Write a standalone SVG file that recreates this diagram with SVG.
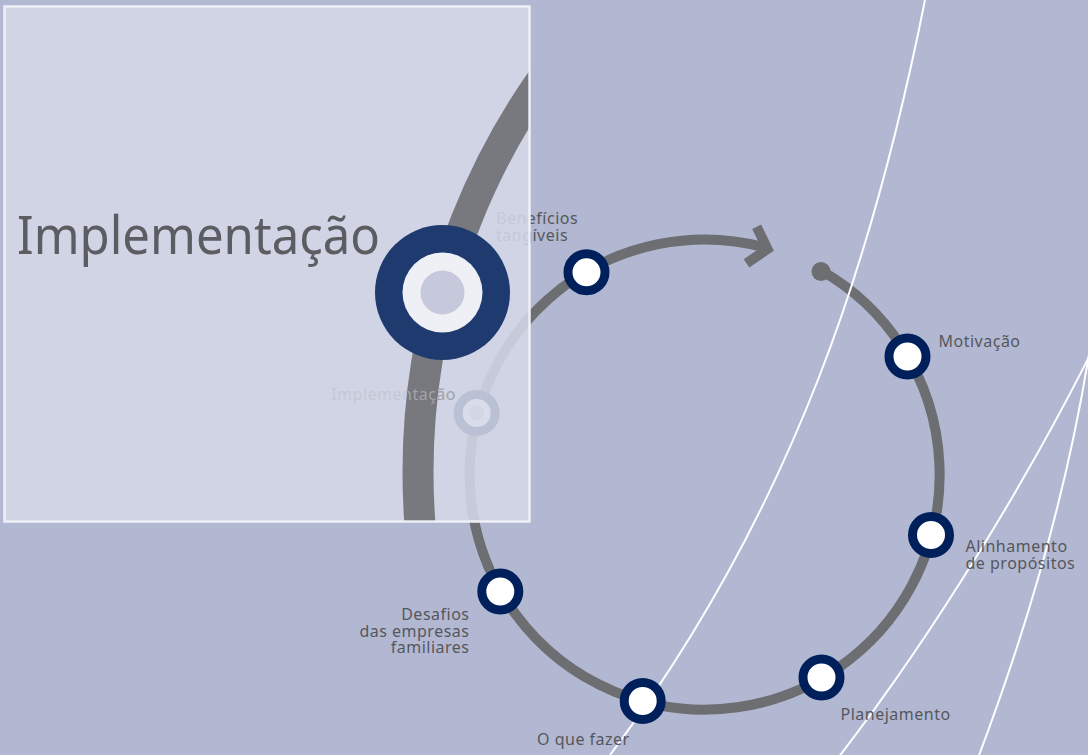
<svg xmlns="http://www.w3.org/2000/svg" width="1088" height="755" viewBox="0 0 1088 755">
  <defs>
    <style>
      .ring { fill: none; stroke: #6d6e71; stroke-width: 10; }
      .node { fill: #ffffff; stroke: #00205b; stroke-width: 9; }
      .wline { fill: none; stroke: #ffffff; stroke-width: 2; }
      .lbl { font-family: "Noto Sans", "Open Sans", sans-serif; font-size: 16px; letter-spacing: 0.5px; fill: #56575c; }
      .big { font-family: "Noto Sans", "Open Sans", sans-serif; font-size: 53px; fill: #5c5c63; }
    </style>
    <clipPath id="panelClip">
      <rect x="5.75" y="7.75" width="522.5" height="512.5"/>
    </clipPath>
    <clipPath id="arcTextClip">
      <rect x="406" y="380" width="60" height="30"/>
    </clipPath>
  </defs>

  <rect id="background" x="0" y="0" width="1088" height="755" fill="#b2b8d2"/>

  <g id="connectors">
    <path class="ring" d="M822,271 A235,235 0 1,1 767.3,248.1"/>
    <polyline points="756.7,226.8 767.5,249 746.5,263.3" fill="none" stroke="#6d6e71" stroke-width="10" stroke-linejoin="miter" stroke-linecap="butt"/>
    <circle cx="821" cy="271.5" r="9.5" fill="#6d6e71"/>
  </g>

  <g id="white-curves">
    <path class="wline" stroke-width="2.4" d="M925,0 C875,250 797,505 610,755"/>
    <path class="wline" stroke-width="1.8" d="M1095,345 C1030,475 938,628 838,758"/>
    <path class="wline" stroke-width="1.8" d="M1092,335 C1071,475 1031,618 978,758"/>
  </g>

  <g id="node-beneficios">
    <circle class="node" cx="586.5" cy="272.3" r="18.5"/>
    <text class="lbl" x="496" y="224">Benefícios</text>
    <text class="lbl" x="496" y="241">tangíveis</text>
  </g>
  <g id="node-motivacao">
    <circle class="node" cx="907.5" cy="356.5" r="18.5"/>
    <text class="lbl" x="938.5" y="347">Motivação</text>
  </g>
  <g id="node-alinhamento">
    <circle class="node" cx="931" cy="535" r="18.5"/>
    <text class="lbl" x="965.5" y="552">Alinhamento</text>
    <text class="lbl" x="965.5" y="568.5">de propósitos</text>
  </g>
  <g id="node-planejamento">
    <circle class="node" cx="821.5" cy="677.5" r="18.5"/>
    <text class="lbl" x="840.5" y="720">Planejamento</text>
  </g>
  <g id="node-oquefazer">
    <circle class="node" cx="642.7" cy="701" r="18.5"/>
    <text class="lbl" x="537" y="745">O que fazer</text>
  </g>
  <g id="node-desafios">
    <circle class="node" cx="500.3" cy="591.5" r="18.5"/>
    <text class="lbl" x="469.5" y="620" text-anchor="end">Desafios</text>
    <text class="lbl" x="469.5" y="636.5" text-anchor="end">das empresas</text>
    <text class="lbl" x="469.5" y="653" text-anchor="end">familiares</text>
  </g>
  <g id="node-implementacao">
    <circle class="node" cx="476.7" cy="413" r="18.5"/>
    <circle cx="476.7" cy="413" r="7.5" fill="#c5c9db"/>
    <text class="lbl" x="456" y="400" text-anchor="end">Implementação</text>
  </g>

  <g id="panel">
    <rect x="4.5" y="6.5" width="525" height="515" fill="#d4d7e6" fill-opacity="0.88" stroke="#eef0f6" stroke-width="2.5"/>
    <g clip-path="url(#panelClip)">
      <circle cx="1100" cy="472" r="682" fill="none" stroke="#77797f" stroke-width="31"/>
    </g>
    <text class="lbl" x="456" y="400" text-anchor="end" clip-path="url(#arcTextClip)" style="fill:#a3a4ac">Implementação</text>
    <g id="node-implementacao-zoom">
      <circle cx="442.5" cy="292.5" r="67.5" fill="#1f3a6f"/>
      <circle cx="442.5" cy="292.5" r="40" fill="#eff0f5"/>
      <circle cx="442.5" cy="292.5" r="22" fill="#c5c9db"/>
    </g>
    <text class="big" x="17" y="253.5" textLength="363" lengthAdjust="spacingAndGlyphs">Implementação</text>
  </g>
</svg>
